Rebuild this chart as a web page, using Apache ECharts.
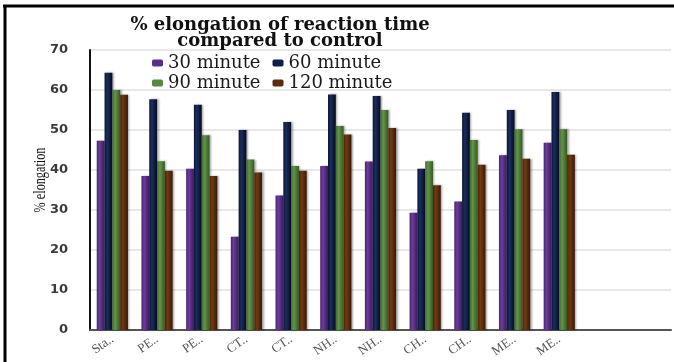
<!DOCTYPE html>
<html>
<head>
<meta charset="utf-8">
<script src="https://cdn.jsdelivr.net/npm/echarts@6/dist/echarts.min.js"></script>
<style>
  html, body { margin: 0; padding: 0; background: #fff; }
  #chart { width: 674px; height: 362px; }
</style>
</head>
<body>
<div id="chart"></div>
<script>
// Treatment groups (two trailing empty slots keep the axis running to the edge)
const categories = ['Sta..', 'PE..', 'PE..', 'CT..', 'CT..', 'NH..', 'NH..', 'CH..', 'CH..', 'ME..', 'ME..', '', ''];

// % elongation of reaction time per exposure time
const min30  = [47.3, 38.5, 40.3, 23.3, 33.6, 41.0, 42.1, 29.3, 32.1, 43.7, 46.8];
const min60  = [64.3, 57.7, 56.3, 50.0, 52.0, 58.9, 58.5, 40.3, 54.3, 55.0, 59.5];
const min90  = [60.0, 42.2, 48.7, 42.6, 41.0, 51.0, 55.0, 42.2, 47.5, 50.2, 50.2];
const min120 = [58.8, 39.8, 38.5, 39.4, 39.8, 48.9, 50.5, 36.2, 41.3, 42.8, 43.8];

const yTicks = [0, 10, 20, 30, 40, 50, 60, 70];

const seriesNames = ['30 minute', '60 minute', '90 minute', '120 minute'];
const seriesData = [min30, min60, min90, min120];

// Each bar is shaded left-to-right to give a rounded look
const shades = [
  ['#4a2470', '#6b3d9c', '#3a1a5c'],
  ['#0a1636', '#1c2d5c', '#040b22'],
  ['#3e6a2a', '#64944a', '#34591f'],
  ['#4e2209', '#713a14', '#3a1805']
];
const legendColors = ['#5a2f8a', '#0f1f48', '#578a3c', '#5f2c0d'];

function barFill(s) {
  return new echarts.graphic.LinearGradient(0, 0, 1, 0, [
    { offset: 0, color: s[0] },
    { offset: 0.35, color: s[1] },
    { offset: 1, color: s[2] }
  ]);
}

const chart = echarts.init(document.getElementById('chart'), null, { renderer: 'canvas' });

const series = seriesNames.map((name, i) => ({
  name: name,
  type: 'bar',
  data: seriesData[i],
  barWidth: 7.8,
  barGap: '0%',
  itemStyle: {
    color: barFill(shades[i]),
    shadowColor: 'rgba(0,0,0,0.35)',
    shadowBlur: 2,
    shadowOffsetX: 1.5
  }
}));

const legendText = { fontFamily: 'DejaVu Serif', fontSize: 18, color: '#1a1a1a' };

chart.setOption({
  animation: false,
  backgroundColor: '#ffffff',
  title: {
    text: '% elongation of reaction time\ncompared to control',
    left: 275,
    textAlign: 'center',
    top: 12,
    textStyle: {
      fontFamily: 'DejaVu Serif',
      fontWeight: 'bold',
      fontSize: 18,
      lineHeight: 16,
      color: '#111'
    }
  },
  legend: [
    {
      data: seriesNames.slice(0, 2).map((n, i) => ({ name: n, itemStyle: { color: legendColors[i] } })),
      left: 152, top: 54,
      itemWidth: 11, itemHeight: 7, itemGap: 12,
      textStyle: legendText, padding: 0
    },
    {
      data: seriesNames.slice(2).map((n, i) => ({ name: n, itemStyle: { color: legendColors[i + 2] } })),
      left: 152, top: 74,
      itemWidth: 11, itemHeight: 7, itemGap: 12,
      textStyle: legendText, padding: 0
    }
  ],
  grid: { left: 90, right: 3, top: 50, bottom: 32, containLabel: false },
  xAxis: {
    type: 'category',
    data: categories,
    axisLine: { lineStyle: { color: '#555', width: 2 } },
    axisTick: { show: false },
    axisLabel: {
      interval: 0,
      rotate: 35,
      margin: 8,
      fontFamily: 'Liberation Serif',
      fontSize: 13,
      color: '#555'
    }
  },
  yAxis: {
    type: 'value',
    min: yTicks[0],
    max: yTicks[yTicks.length - 1],
    interval: 10,
    axisLine: { show: true, lineStyle: { color: '#111', width: 2 } },
    axisTick: { show: false },
    splitLine: { lineStyle: { color: '#e0e0e0', width: 1.5 } },
    axisLabel: {
      margin: 22,
      fontFamily: 'DejaVu Sans',
      fontWeight: 'bold',
      fontSize: 13,
      color: '#3a3a3a'
    }
  },
  graphic: [
    {
      type: 'line',
      shape: { x1: 3, y1: 6, x2: 674, y2: 6 },
      style: { stroke: '#000', lineWidth: 3 },
      silent: true
    },
    {
      type: 'line',
      shape: { x1: 5, y1: 5, x2: 5, y2: 362 },
      style: { stroke: '#000', lineWidth: 3 },
      silent: true
    },
    {
      type: 'text',
      x: 41, y: 180,
      rotation: Math.PI / 2,
      scaleX: 0.72,
      style: {
        text: '% elongation',
        fontFamily: 'Liberation Serif',
        fontSize: 17,
        fill: '#111',
        align: 'center',
        verticalAlign: 'middle'
      },
      silent: true
    }
  ],
  series: series
});
</script>
</body>
</html>
